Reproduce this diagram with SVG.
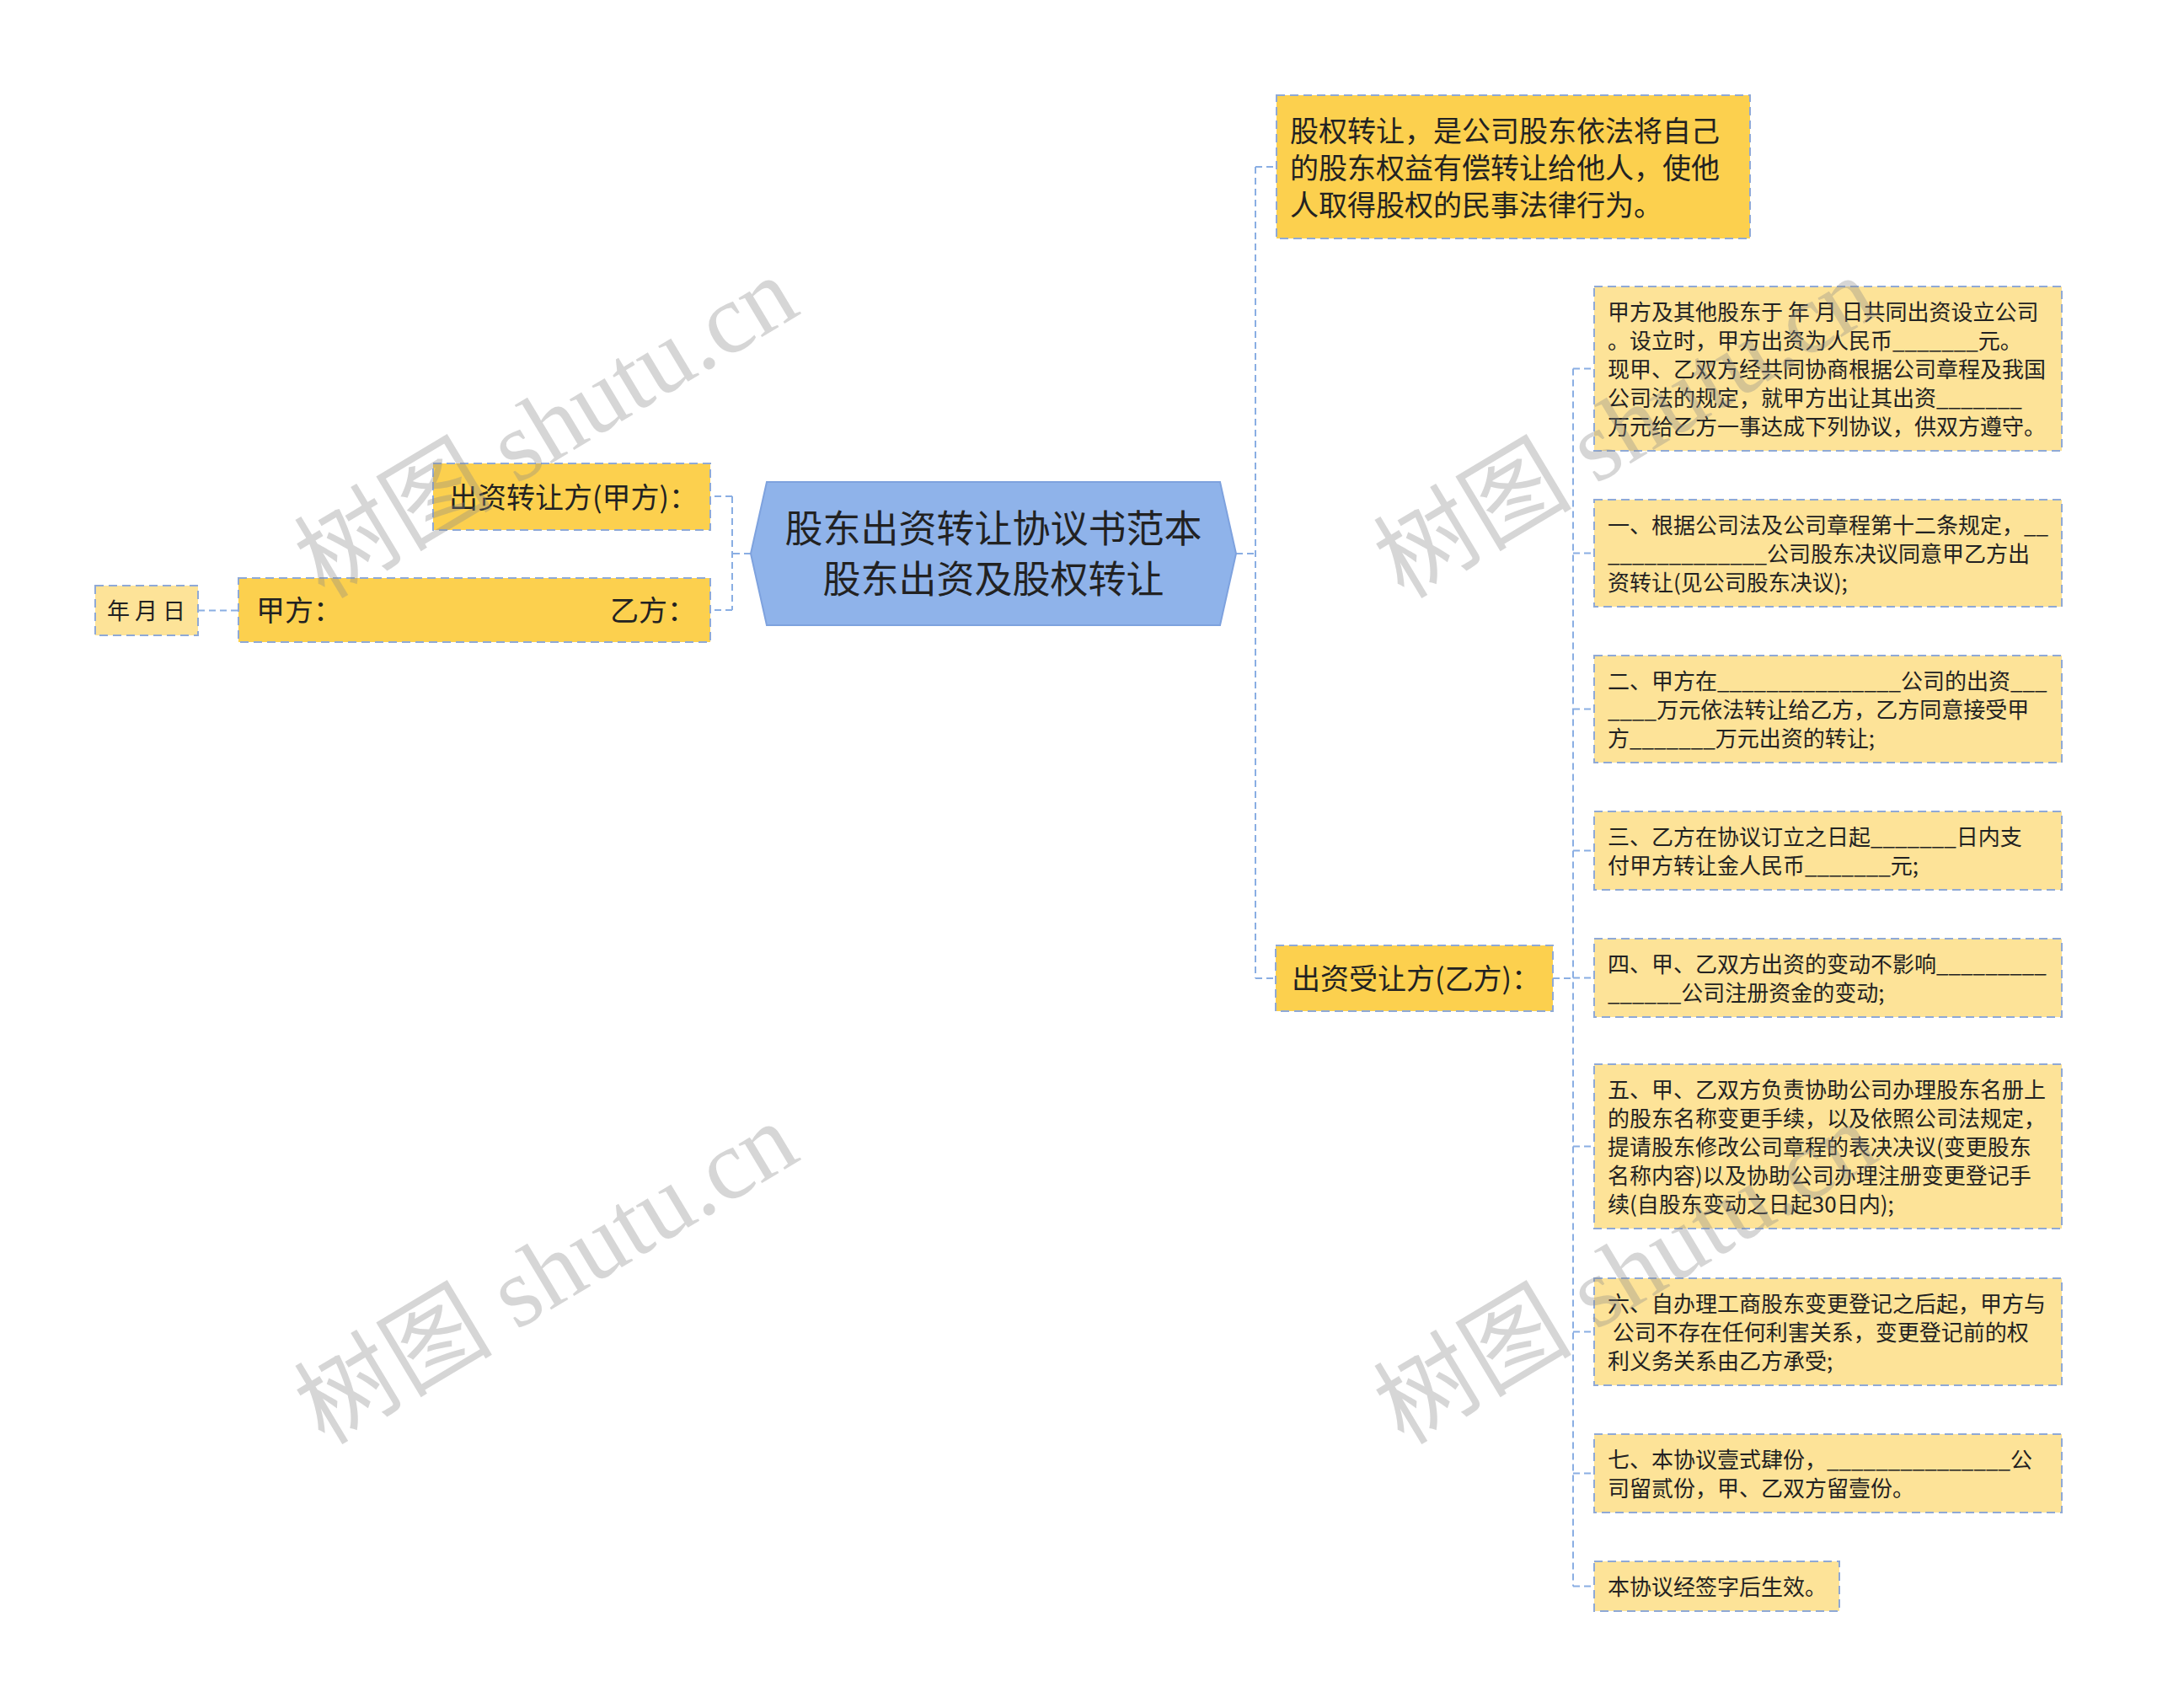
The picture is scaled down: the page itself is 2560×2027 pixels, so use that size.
<svg xmlns="http://www.w3.org/2000/svg" width="2560" height="2027" viewBox="0 0 2560 2027">
<style>
  .t { font-family: "Noto Sans CJK SC", "Liberation Sans", sans-serif; fill: #222222; }
  .f34 { font-size: 34px; }
  .f26 { font-size: 26px; }
  .f27 { font-size: 27px; }
  .gold { fill: #FCD04E; stroke: #8FA9D6; stroke-width: 2; stroke-dasharray: 10 6; }
  .light { fill: #FDE398; stroke: #8FA9D6; stroke-width: 2; stroke-dasharray: 10 6; }
  .conn { fill: none; stroke: #8AAEE3; stroke-width: 2; stroke-dasharray: 8 5; }
  .wm { font-family: "Liberation Serif", "Noto Sans CJK SC", serif; font-size: 118px; fill: #8a8a8a; fill-opacity: 0.35; }
</style>
<rect width="2560" height="2027" fill="#ffffff"/>

<g id="connectors">
  <path class="conn" d="M891,657 H869 M869,589 V724 M869,589 H843 M869,724 H843"/>
  <path class="conn" d="M235,724.5 H283"/>
  <path class="conn" d="M1467,657 H1490 M1490,198 V1161 M1490,198 H1515 M1490,1161 H1514"/>
  <path class="conn" d="M1843,1161 H1867 M1867,437.5 V1882.5 M1867,437.5 H1892 M1867,656.5 H1892 M1867,841.5 H1892 M1867,1009.5 H1892 M1867,1160.5 H1892 M1867,1360.5 H1892 M1867,1580.5 H1892 M1867,1748.5 H1892 M1867,1882.5 H1892"/>
</g>

<g id="root">
  <path d="M891,657 L910,572 L1448,572 L1467,657 L1448,742 L910,742 Z" fill="#8FB3EA" stroke="#7EA2DE" stroke-width="2"/>
  <text class="t" font-size="45" text-anchor="middle" x="1179" y="644" fill="#2a2a2a">股东出资转让协议书范本</text>
  <text class="t" font-size="45" text-anchor="middle" x="1179" y="704" fill="#2a2a2a">股东出资及股权转让</text>
</g>

<g id="node-definition">
  <rect class="gold" x="1515" y="113" width="562" height="170"/>
  <text class="t f34" x="1531" y="168">股权转让，是公司股东依法将自己</text>
  <text class="t f34" x="1531" y="212">的股东权益有偿转让给他人，使他</text>
  <text class="t f34" x="1531" y="256">人取得股权的民事法律行为。</text>
</g>

<g id="node-transferee">
  <rect class="gold" x="1514" y="1122" width="329" height="78"/>
  <text class="t f34" x="1533" y="1174">出资受让方(乙方)：</text>
</g>

<g id="node-transferor">
  <rect class="gold" x="514" y="550" width="329" height="79"/>
  <text class="t f34" x="533" y="602.5">出资转让方(甲方)：</text>
</g>

<g id="node-signature">
  <rect class="gold" x="283" y="686" width="560" height="76"/>
  <text class="t f34" y="737"><tspan x="304">甲方：</tspan><tspan x="724">乙方：</tspan></text>
</g>

<g id="node-date">
  <rect class="light" x="113" y="695" width="122" height="59"/>
  <text class="t f27" x="127" y="735" xml:space="preserve">年 月 日</text>
</g>

<g id="node-preamble">
  <rect class="light" x="1892" y="340" width="555" height="195"/>
  <text class="t f26" x="1908" y="379.5" xml:space="preserve">甲方及其他股东于 年 月 日共同出资设立公司</text>
  <text class="t f26" x="1908" y="413.5">。设立时，甲方出资为人民币_______元。</text>
  <text class="t f26" x="1908" y="447.5">现甲、乙双方经共同协商根据公司章程及我国</text>
  <text class="t f26" x="1908" y="481.5">公司法的规定，就甲方出让其出资_______</text>
  <text class="t f26" x="1908" y="515.5">万元给乙方一事达成下列协议，供双方遵守。</text>
</g>

<g id="node-1">
  <rect class="light" x="1892" y="593" width="555" height="127"/>
  <text class="t f26" x="1908" y="632.5">一、根据公司法及公司章程第十二条规定，__</text>
  <text class="t f26" x="1908" y="666.5">_____________公司股东决议同意甲乙方出</text>
  <text class="t f26" x="1908" y="700.5">资转让(见公司股东决议);</text>
</g>

<g id="node-2">
  <rect class="light" x="1892" y="778" width="555" height="127"/>
  <text class="t f26" x="1908" y="817.5">二、甲方在_______________公司的出资___</text>
  <text class="t f26" x="1908" y="851.5">____万元依法转让给乙方，乙方同意接受甲</text>
  <text class="t f26" x="1908" y="885.5">方_______万元出资的转让;</text>
</g>

<g id="node-3">
  <rect class="light" x="1892" y="963" width="555" height="93"/>
  <text class="t f26" x="1908" y="1002.5">三、乙方在协议订立之日起_______日内支</text>
  <text class="t f26" x="1908" y="1036.5">付甲方转让金人民币_______元;</text>
</g>

<g id="node-4">
  <rect class="light" x="1892" y="1114" width="555" height="93"/>
  <text class="t f26" x="1908" y="1153.5">四、甲、乙双方出资的变动不影响_________</text>
  <text class="t f26" x="1908" y="1187.5">______公司注册资金的变动;</text>
</g>

<g id="node-5">
  <rect class="light" x="1892" y="1263" width="555" height="195"/>
  <text class="t f26" x="1908" y="1302.5">五、甲、乙双方负责协助公司办理股东名册上</text>
  <text class="t f26" x="1908" y="1336.5">的股东名称变更手续，以及依照公司法规定，</text>
  <text class="t f26" x="1908" y="1370.5">提请股东修改公司章程的表决决议(变更股东</text>
  <text class="t f26" x="1908" y="1404.5">名称内容)以及协助公司办理注册变更登记手</text>
  <text class="t f26" x="1908" y="1438.5">续(自股东变动之日起30日内);</text>
</g>

<g id="node-6">
  <rect class="light" x="1892" y="1517" width="555" height="127"/>
  <text class="t f26" x="1908" y="1556.5">六、自办理工商股东变更登记之后起，甲方与</text>
  <text class="t f26" x="1908" y="1590.5" xml:space="preserve"> 公司不存在任何利害关系，变更登记前的权</text>
  <text class="t f26" x="1908" y="1624.5">利义务关系由乙方承受;</text>
</g>

<g id="node-7">
  <rect class="light" x="1892" y="1702" width="555" height="93"/>
  <text class="t f26" x="1908" y="1741.5">七、本协议壹式肆份，_______________公</text>
  <text class="t f26" x="1908" y="1775.5">司留贰份，甲、乙双方留壹份。</text>
</g>

<g id="node-8">
  <rect class="light" x="1892" y="1853" width="291" height="59"/>
  <text class="t f26" x="1908" y="1892.5">本协议经签字后生效。</text>
</g>

<g id="watermarks">
  <text class="wm" transform="translate(385,712) rotate(-31)">树图 shutu.cn</text>
  <text class="wm" transform="translate(385,1716) rotate(-31)">树图 shutu.cn</text>
  <text class="wm" transform="translate(1666,712) rotate(-31)">树图 shutu.cn</text>
  <text class="wm" transform="translate(1666,1716) rotate(-31)">树图 shutu.cn</text>
</g>
</svg>
